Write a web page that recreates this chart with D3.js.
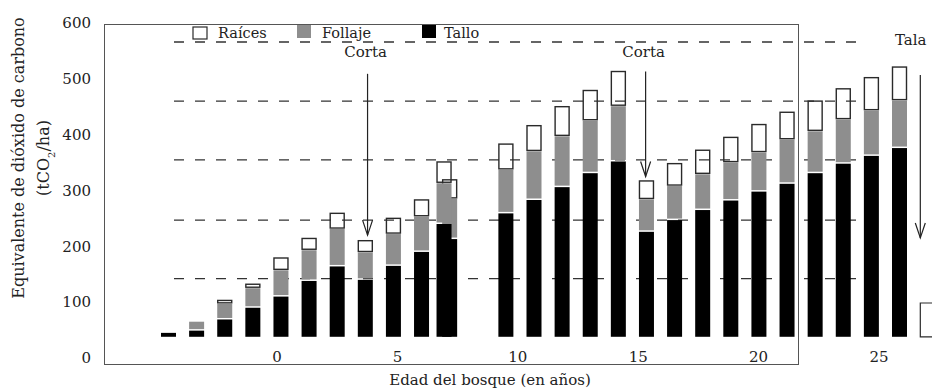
<!DOCTYPE html>
<html>
<head>
<meta charset="utf-8">
<script src="https://cdn.jsdelivr.net/npm/d3@7"></script>
<style>
  body { margin: 0; background: #fff; }
  svg text { font-family: "DejaVu Serif", serif; font-size: 15px; fill: #222; }
</style>
</head>
<body>
<svg id="chart" width="932" height="392"></svg>
<script>
// posicion de cada barra (9.8 = barra que se solapa antes del hueco)
const slots = [0, 1, 2, 3, 4, 5, 6, 7, 8, 9, 9.8, 10, 12, 13, 14, 15, 16, 17, 18, 19, 20, 21, 22, 23, 24, 25, 26]
const tallo = [7, 11, 31, 52, 72, 100, 126, 102, 127, 152, 202, 175, 221, 245, 268, 293, 314, 188, 209, 227, 244, 260, 274, 293, 310, 324, 338]
const follaje = [0, 16, 28, 35, 47, 55, 67, 49, 57, 63, 73, 72, 78, 87, 91, 94, 99, 58, 61, 64, 68, 70, 79, 75, 79, 81, 85]
const raices = [0, 0, 7, 8, 23, 22, 29, 22, 29, 31, 39, 35, 47, 47, 54, 55, 63, 34, 41, 44, 46, 51, 50, 55, 56, 60, 61]
const baseValue = 38

const dashLevels = [142, 247, 355, 460, 566]
const yTicks = [0, 100, 200, 300, 400, 500, 600]
const xTicks = [0, 5, 10, 15, 20, 25]
const legendLabels = ['Raíces', 'Follaje', 'Tallo']

// anotaciones: posicion en huecos de barra y valores del eje y
const cutArrows = [
    { label: 'Corta', slot: 7.08, from: 509, to: 220 },
    { label: 'Corta', slot: 16.97, from: 513, to: 325 }
]
const talaArrow = { label: 'Tala', slot: 26.74, from: 507, to: 215 }

const svg = d3.select('#chart')

const y = d3.scaleLinear().domain([0, 600]).range([358, 23])
const xBar = d3.scaleLinear().domain([0, 26]).range([168.5, 899.5])
const xAge = d3.scaleLinear().domain([0, 25]).range([277, 879])

const barW = 15,
    gap = 1.5,
    grey = '#8e8e8e',
    outline = '#2a2a2a'

let data = slots.map((s, i) => {
    let t = baseValue + tallo[i],
        f = t + follaje[i],
        r = f + raices[i]
    return { slot: s, base: baseValue, t: t, f: f, r: r, follaje: follaje[i], raices: raices[i] }
})

drawFrame(svg)
drawDashes(svg)
drawBars(svg, data)
drawAxes(svg)
drawLegend(svg)
drawAnnotations(svg)


/** marco gris alrededor del area principal */
function drawFrame(g) {
    g.append('rect')
        .attr('x', 104.5)
        .attr('y', 24.5)
        .attr('width', 694)
        .attr('height', 340)
        .attr('fill', 'none')
        .attr('stroke', '#555')
        .attr('stroke-width', 1)
}

function drawDashes(g) {
    g.append('g')
        .selectAll('line')
        .data(dashLevels)
        .enter()
        .append('line')
        .attr('x1', 174)
        .attr('x2', 867)
        .attr('y1', d => y(d))
        .attr('y2', d => y(d))
        .attr('stroke', '#333')
        .attr('stroke-width', 1.3)
        .attr('stroke-dasharray', '10,11')
}

/**
 * barras apiladas: tallo (negro), follaje (gris), raices (solo contorno)
 * se dibujan en orden inverso para que la barra solapada quede delante
 */
function drawBars(g, data) {
    let bars = g.append('g')
        .selectAll('g')
        .data(data.slice().reverse())
        .enter()
        .append('g')

    bars.append('rect')
        .attr('x', d => xBar(d.slot) - barW / 2)
        .attr('y', d => y(d.t))
        .attr('width', barW)
        .attr('height', d => y(d.base) - y(d.t))
        .attr('fill', '#000')

    bars.filter(d => d.follaje > 0)
        .append('rect')
        .attr('x', d => xBar(d.slot) - barW / 2)
        .attr('y', d => y(d.f))
        .attr('width', barW)
        .attr('height', d => y(d.t) - y(d.f) - gap)
        .attr('fill', grey)

    bars.filter(d => d.raices > 0)
        .append('rect')
        .attr('x', d => xBar(d.slot) - barW / 2 + 0.5)
        .attr('y', d => y(d.r) + 0.5)
        .attr('width', barW - 1)
        .attr('height', d => y(d.f) - y(d.r) - gap)
        .attr('fill', 'none')
        .attr('stroke', outline)
        .attr('stroke-width', 1.4)
}

function drawAxes(g) {
    g.append('g')
        .selectAll('text')
        .data(yTicks)
        .enter()
        .append('text')
        .attr('x', 91)
        .attr('y', d => y(d))
        .attr('dy', '0.35em')
        .attr('text-anchor', 'end')
        .text(d => d)

    g.append('g')
        .selectAll('text')
        .data(xTicks)
        .enter()
        .append('text')
        .attr('x', d => xAge(d))
        .attr('y', 362)
        .attr('text-anchor', 'middle')
        .text(d => d)

    g.append('text')
        .attr('x', 490)
        .attr('y', 385)
        .attr('text-anchor', 'middle')
        .text('Edad del bosque (en años)')

    let title = g.append('text')
        .attr('transform', 'translate(24,158) rotate(-90)')
        .attr('text-anchor', 'middle')
        .style('font-size', '16px')
    title.append('tspan')
        .attr('x', 0)
        .text('Equivalente de dióxido de carbono')
    let unit = title.append('tspan')
        .attr('x', 0)
        .attr('dy', 25)
    unit.append('tspan').text('(tCO')
    unit.append('tspan')
        .attr('baseline-shift', 'sub')
        .style('font-size', '10px')
        .text('2')
    unit.append('tspan').text('/ha)')
}

function drawLegend(g) {
    let fills = ['#fff', grey, '#000'],
        boxX = [193, 297, 422],
        textX = [218, 322, 444]

    let items = g.append('g')
        .selectAll('g')
        .data(legendLabels)
        .enter()
        .append('g')

    items.append('rect')
        .attr('x', (d, i) => boxX[i])
        .attr('y', (d, i) => i == 0 ? 27 : 25)
        .attr('width', 14)
        .attr('height', (d, i) => i == 0 ? 12 : 13)
        .attr('fill', (d, i) => fills[i])
        .attr('stroke', (d, i) => i == 0 ? outline : 'none')
        .attr('stroke-width', 1.2)

    items.append('text')
        .attr('x', (d, i) => textX[i])
        .attr('y', 37.5)
        .style('font-size', '14.5px')
        .text(d => d)
}

/** flecha vertical con punta abierta en V */
function arrow(g, cx, y1, y2) {
    g.append('line')
        .attr('x1', cx).attr('x2', cx)
        .attr('y1', y1).attr('y2', y2)
        .attr('stroke', '#222')
        .attr('stroke-width', 1.2)
    g.append('path')
        .attr('d', `M${cx - 5},${y2 - 15}L${cx},${y2}L${cx + 5},${y2 - 15}`)
        .attr('fill', 'none')
        .attr('stroke', '#222')
        .attr('stroke-width', 1.2)
}

function drawAnnotations(g) {
    cutArrows.forEach(a => {
        let cx = xBar(a.slot)
        arrow(g, cx, y(a.from), y(a.to))
        g.append('text')
            .attr('x', cx - 2)
            .attr('y', 57)
            .attr('text-anchor', 'middle')
            .text(a.label)
    })

    let tx = xBar(talaArrow.slot)
    arrow(g, tx, y(talaArrow.from), y(talaArrow.to))
    g.append('text')
        .attr('x', 895)
        .attr('y', 45)
        .text(talaArrow.label)

    // caja cortada en el borde derecho
    g.append('path')
        .attr('d', `M940,${y(98.5)}H${tx}V${y(baseValue)}H940`)
        .attr('fill', 'none')
        .attr('stroke', outline)
        .attr('stroke-width', 1.2)
}
</script>
</body>
</html>
